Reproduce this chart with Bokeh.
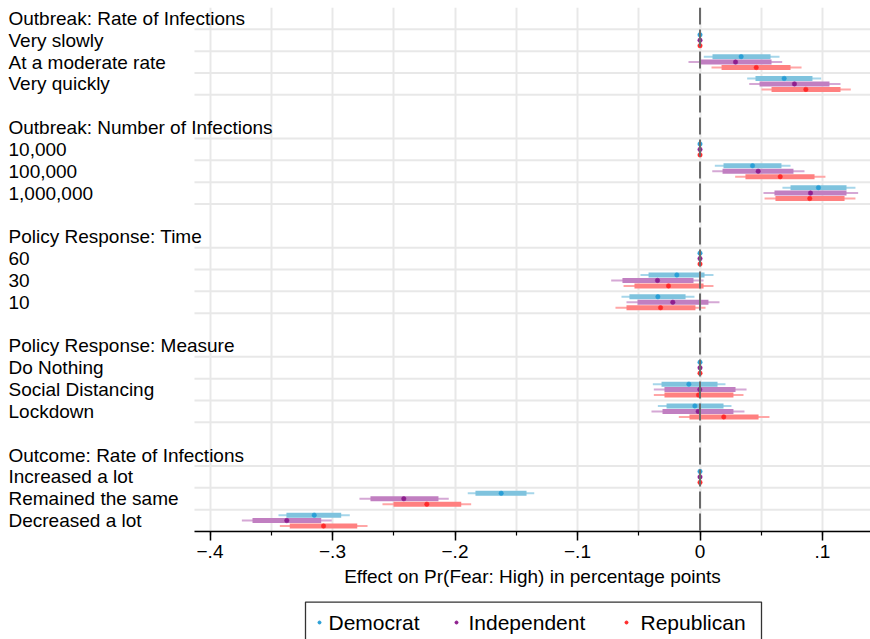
from bokeh.plotting import figure
from bokeh.layouts import column
from bokeh.models import (Range1d, FixedTicker, ColumnDataSource, Span, CustomJSTickFormatter)
from bokeh.core.properties import value
from bokeh.embed import file_html
from bokeh.resources import INLINE

# ---------------- data ----------------
groups = ["Outbreak: Rate of Infections", "Outbreak: Number of Infections",
          "Policy Response: Time", "Policy Response: Measure",
          "Outcome: Rate of Infections"]
levels = [["Very slowly", "At a moderate rate", "Very quickly"],
          ["10,000", "100,000", "1,000,000"],
          ["60", "30", "10"],
          ["Do Nothing", "Social Distancing", "Lockdown"],
          ["Increased a lot", "Remained the same", "Decreased a lot"]]

series = ["Democrat", "Independent", "Republican"]
x_title = "Effect on Pr(Fear: High) in percentage points"

# point estimates (15 levels, reference level = 0)
dem_est = [0, 0.0336, 0.0687, 0, 0.0429, 0.0967, 0, -0.0189, -0.0344, 0, -0.0091, -0.0042, 0, -0.1623, -0.3149]
ind_est = [0, 0.0290, 0.0771, 0, 0.0475, 0.0902, 0, -0.0347, -0.0222, 0, -0.0002, -0.0015, 0, -0.2418, -0.3373]
rep_est = [0, 0.0459, 0.0864, 0, 0.0655, 0.0896, 0, -0.0257, -0.0322, 0, -0.0012, 0.0194, 0, -0.2230, -0.3073]

# inner (thick) interval
dem_lo1 = [0, 0.0102, 0.0453, 0, 0.0192, 0.0739, 0, -0.0420, -0.0576, 0, -0.0314, -0.0273, 0, -0.1833, -0.3376]
dem_hi1 = [0, 0.0576, 0.0918, 0, 0.0665, 0.1196, 0, 0.0037, -0.0118, 0, 0.0143, 0.0192, 0, -0.1416, -0.2929]
ind_lo1 = [0, -0.0004, 0.0486, 0, 0.0184, 0.0608, 0, -0.0633, -0.0510, 0, -0.0290, -0.0306, 0, -0.2690, -0.3653]
ind_hi1 = [0, 0.0584, 0.1057, 0, 0.0763, 0.1196, 0, -0.0053, 0.0069, 0, 0.0290, 0.0273, 0, -0.2135, -0.3092]
rep_lo1 = [0, 0.0176, 0.0584, 0, 0.0371, 0.0616, 0, -0.0535, -0.0600, 0, -0.0290, -0.0086, 0, -0.2502, -0.3349]
rep_hi1 = [0, 0.0739, 0.1147, 0, 0.0935, 0.1180, 0, 0.0029, -0.0037, 0, 0.0273, 0.0478, 0, -0.1949, -0.2798]

# outer (thin) interval
dem_lo2 = [0, 0.0031, 0.0385, 0, 0.0121, 0.0673, 0, -0.0486, -0.0641, 0, -0.0385, -0.0344, 0, -0.1896, -0.3441]
dem_hi2 = [0, 0.0649, 0.0989, 0, 0.0739, 0.1269, 0, 0.0110, -0.0045, 0, 0.0208, 0.0257, 0, -0.1353, -0.2859]
ind_lo2 = [0, -0.0094, 0.0402, 0, 0.0100, 0.0518, 0, -0.0725, -0.0600, 0, -0.0377, -0.0396, 0, -0.2780, -0.3740]
ind_hi2 = [0, 0.0671, 0.1147, 0, 0.0853, 0.1291, 0, 0.0029, 0.0159, 0, 0.0380, 0.0363, 0, -0.2051, -0.3006]
rep_lo2 = [0, 0.0094, 0.0502, 0, 0.0287, 0.0527, 0, -0.0624, -0.0690, 0, -0.0377, -0.0173, 0, -0.2592, -0.3430]
rep_hi2 = [0, 0.0829, 0.1231, 0, 0.1024, 0.1269, 0, 0.0110, 0.0045, 0, 0.0355, 0.0567, 0, -0.1868, -0.2714]

x_ticks = [-0.4, -0.3, -0.2, -0.1, 0, 0.1]
x_minor = [-0.4, -0.35, -0.3, -0.25, -0.2, -0.15, -0.1, -0.05, 0, 0.05, 0.1]
ref_x = 0

# ---------------- styling / layout ----------------
dot_colors = ["#2a9fd6", "#8e1f8e", "#ff2a2a"]
thick_colors = ["#7fc3de", "#c17fc1", "#ff8080"]
thin_colors = ["#a6d6ea", "#d5a8d5", "#ffa6a6"]
offsets = [-0.25, 0.0, 0.25]
FONT = "Liberation Sans"
W = 870
zero_px, px_per_unit = 699.5, 1225.0      # pixel position of x=0 and scale
axis_left_px, label_left_px = 194, 8

def px_to_x(px):
    return (px - zero_px) / px_per_unit

x_min, x_max = px_to_x(0), px_to_x(W)
x_axis_start = px_to_x(axis_left_px)
label_x = px_to_x(label_left_px)

est = [dem_est, ind_est, rep_est]
lo1 = [dem_lo1, ind_lo1, rep_lo1]
hi1 = [dem_hi1, ind_hi1, rep_hi1]
lo2 = [dem_lo2, ind_lo2, rep_lo2]
hi2 = [dem_hi2, ind_hi2, rep_hi2]

# row positions
level_rows = []
label_rows, label_texts = [], []
grid_rows = []
for g, name in enumerate(groups):
    base = 5 * g
    label_rows.append(base)
    label_texts.append(name)
    grid_rows.append(base + 0.5)
    for k, lv in enumerate(levels[g]):
        r = base + 1 + k
        level_rows.append(r)
        label_rows.append(r)
        label_texts.append(lv)
        grid_rows.append(r + 0.5)
n_rows = 5 * len(groups) - 1

H1 = 567
p = figure(width=W, height=H1, output_backend="svg", toolbar_location=None,
           x_range=Range1d(x_min, x_max), y_range=Range1d(n_rows - 0.5, -0.5),
           min_border_left=0, min_border_right=0, min_border_top=7,
           min_border_bottom=H1 - 531)
p.outline_line_color = None
p.yaxis.visible = False
p.ygrid.visible = False
p.background_fill_color = "white"

p.xgrid.ticker = FixedTicker(ticks=x_minor)
p.xgrid.grid_line_color = "#e8e8e8"
p.xgrid.grid_line_width = 2

# horizontal row separators (only across the plot region)
p.segment(x0=[x_axis_start] * len(grid_rows), y0=grid_rows,
          x1=[x_max] * len(grid_rows), y1=grid_rows,
          line_color="#e8e8e8", line_width=2)

ax = p.xaxis[0]
ax.bounds = (x_axis_start, x_max)
ax.ticker = FixedTicker(ticks=x_ticks, minor_ticks=x_minor)
ax.formatter = CustomJSTickFormatter(code="""
    if (Math.abs(tick) < 1e-9) return '0';
    var s = Math.abs(tick).toFixed(1).replace(/^0/, '');
    return (tick < 0 ? '\u2212' : '') + s;
""")
ax.axis_line_color = "black"
ax.axis_line_width = 1.5
ax.major_tick_line_color = "black"
ax.major_tick_line_width = 1.5
ax.major_tick_out = 9
ax.major_tick_in = 0
ax.minor_tick_line_color = "black"
ax.minor_tick_line_width = 1.2
ax.minor_tick_out = 4
ax.minor_tick_in = 0
ax.major_label_text_font = FONT
ax.major_label_text_font_size = "19px"
ax.major_label_text_color = "black"
ax.major_label_standoff = 4

for s in range(3):
    ys = [r + offsets[s] for r in level_rows]
    src = ColumnDataSource(dict(y=ys, lo2=lo2[s], hi2=hi2[s], lo1=lo1[s], hi1=hi1[s], est=est[s]))
    p.segment(x0="lo2", y0="y", x1="hi2", y1="y", source=src,
              line_color=thin_colors[s], line_width=2, line_cap="butt")
    p.segment(x0="lo1", y0="y", x1="hi1", y1="y", source=src,
              line_color=thick_colors[s], line_width=5, line_cap="butt")

p.add_layout(Span(location=ref_x, dimension="height", line_color="#6a6a6a",
                  line_width=2, line_dash="17 5", level="glyph"))

for s in range(3):
    ys = [r + offsets[s] for r in level_rows]
    src = ColumnDataSource(dict(y=ys, est=est[s]))
    p.scatter(x="est", y="y", source=src, marker="circle", size=4.5,
              fill_color=dot_colors[s], line_color=dot_colors[s], line_width=0.5)

# left-aligned row labels
lab_src = ColumnDataSource(dict(x=[label_x] * len(label_rows), y=label_rows, text=label_texts))
p.text(x="x", y="y", text="text", source=lab_src, text_align="left",
       text_baseline="middle", text_font=value(FONT), text_font_size="19px",
       text_color="black")

# ---------------- axis title + legend strip (below the chart) ----------------
H2 = 639 - H1
leg = figure(width=W, height=H2, output_backend="svg", toolbar_location=None,
             x_range=Range1d(0, W), y_range=Range1d(H2, 0),
             min_border_left=0, min_border_right=0, min_border_top=0, min_border_bottom=0)
leg.axis.visible = False
leg.grid.visible = False
leg.outline_line_color = None

title_x = (axis_left_px + W) / 2
leg.text(x=[title_x], y=[576 - H1], text=[x_title], text_align="center",
         text_baseline="middle", text_font=value(FONT), text_font_size="19px",
         text_color="black")

box_left, box_right, box_top = 305, 761, 601 - H1 + 0.6
leg.quad(left=[box_left], right=[box_right], top=[box_top], bottom=[H2 + 10],
         fill_color="white", line_color="#333333", line_width=1.3)
key_x = [319, 456, 626]
text_x = [328, 468, 640]
key_y = 622 - H1
leg.scatter(x=key_x, y=[key_y] * 3, marker="circle", size=3,
            fill_color=dot_colors, line_color=dot_colors)
leg.text(x=text_x, y=[key_y] * 3, text=series, text_align="left", text_baseline="middle",
         text_font=value(FONT), text_font_size="21px", text_color="black")

layout = column(p, leg, spacing=0)
open("out.html", "w").write(file_html(layout, INLINE))
